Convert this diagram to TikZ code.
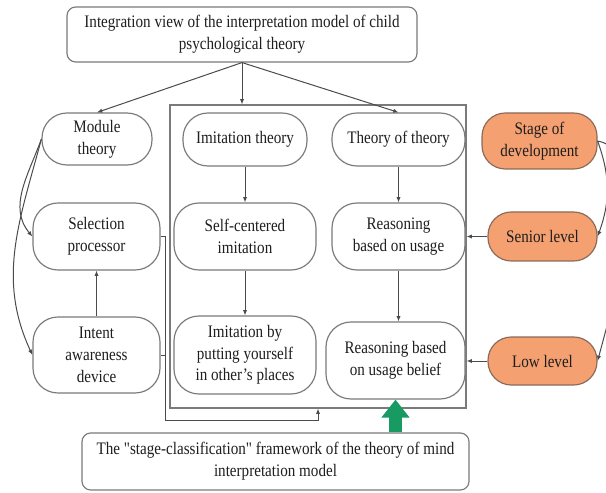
\documentclass[tikz,border=0pt]{standalone}
\usepackage{fontspec}
\setmainfont{Liberation Serif}[FakeStretch=0.86]
\newfontfamily\straightq{Liberation Serif}[FakeStretch=0.86]
\usetikzlibrary{arrows.meta,positioning,calc}
\definecolor{cvline}{HTML}{7A7A7A}
\definecolor{cvink}{HTML}{1E1E1E}
\definecolor{cvstage}{HTML}{F4A070}
\definecolor{cvstagedraw}{HTML}{8C6A58}
\definecolor{cvgreen}{HTML}{179B63}
\newcommand{\dq}{{\straightq"}}
\tikzset{
  pill/.style={draw=cvline,line width=0.35mm,fill=white,rounded corners=7.5mm,
               align=center,inner sep=1mm,font=\fontsize{15}{18.5}\selectfont,text=cvink},
  lvl/.style={pill,draw=cvstagedraw,fill=cvstage,rounded corners=7mm},
  headbox/.style={pill,rounded corners=2.6mm},
  holder/.style={draw=cvline,line width=0.35mm,inner sep=0pt},
  link/.style={-{Latex[length=1.6mm,width=1.3mm]},draw=cvink!80,line width=0.3mm},
  wire/.style={draw=cvink!80,line width=0.3mm},
  boost/.style={-{Triangle[length=5.4mm,width=8.1mm]},draw=cvgreen,line width=3.9mm},
}

\begin{document}
\begin{tikzpicture}[x=0.3mm,y=0.3mm]
  \useasboundingbox (0,0) rectangle (606,492);

  % ================= frame of the two theories =================
  \node[holder,minimum width=88.8mm,minimum height=90.9mm] (frame) at (318,235.5) {};

  % ================= top and bottom boxes =================
  \node[headbox,minimum width=105mm,minimum height=16.5mm] (view) at (242,457.5)
    {Integration view of the interpretation model of child\\psychological theory};
  \node[headbox,minimum width=116.1mm,minimum height=17.1mm] (stagefw) at (275.5,30.5)
    {The \dq stage-classification\dq{} framework of the theory of mind\\interpretation model};

  % ================= left column =================
  \node[pill,minimum width=33mm,minimum height=15.6mm] (module) at (97,353) {Module\\theory};
  \node[pill,minimum width=38.1mm,minimum height=20.1mm] (select) at (96.5,255.5) {Selection\\processor};
  \node[pill,minimum width=38.1mm,minimum height=22.8mm] (intent) at (96.5,137) {Intent\\awareness\\device};

  % ================= imitation column =================
  \node[pill,minimum width=37.2mm,minimum height=15.9mm] (imit) at (245,352.5) {Imitation theory};
  \node[pill,minimum width=42.6mm,minimum height=20.1mm] (selfc) at (245,255.5) {Self-centered\\imitation};
  \node[pill,minimum width=42.6mm,minimum height=23.4mm] (putting) at (245,137) {Imitation by\\putting yourself\\in other's places};

  % ================= theory column =================
  \node[pill,minimum width=39.9mm,minimum height=15.9mm] (theory) at (398.5,352.5) {Theory of theory};
  \node[pill,minimum width=39.9mm,minimum height=20.1mm] (usage) at (398.5,255.5) {Reasoning\\based on usage};
  \node[pill,minimum width=41.7mm,minimum height=23.1mm] (belief) at (395.5,131.5) {Reasoning based\\on usage belief};

  % ================= stage levels =================
  \node[lvl,minimum width=34.5mm,minimum height=16.8mm] (stage) at (539.5,351) {Stage of\\development};
  \node[lvl,minimum width=32.7mm,minimum height=14.7mm] (senior) at (542.5,255.5) {Senior level};
  \node[lvl,minimum width=32.7mm,minimum height=14.4mm] (low) at (542.5,131) {Low level};

  % ================= connectors =================
  \draw[link] (view.south) -- (module.north);
  \draw[link] (view.south) -- (view.south |- frame.north);
  \draw[link] (view.south) -- (theory.north);

  \draw[link] (module.west) to[out=250,in=130] (select.west);
  \draw[link] (module.west) to[out=255,in=115] (intent.west);
  \draw[link] (intent.north) -- (select.south);

  \draw[link] (imit) -- (selfc);
  \draw[link] (selfc) -- (putting);
  \draw[link] (theory) -- (usage);
  \draw[link] (usage.south) -- (usage.south |- belief.north);

  \draw[link] (stage.east) to[out=-70,in=70] (senior.east);
  \draw[link] (stage.east) to[out=-10,in=75,looseness=0.7] (low.east);
  \draw[link] (senior.west) -- (senior.west -| frame.east);
  \draw[link] (low.west) -- (low.west -| frame.east);

  \coordinate (join) at (165,72);
  \draw[link] (select.east) -| (join) -| (frame.south);
  \draw[wire] (intent.east) -- (intent.east -| join);

  \draw[boost] (belief.south |- stagefw.north) -- (belief.south);
\end{tikzpicture}
\end{document}
